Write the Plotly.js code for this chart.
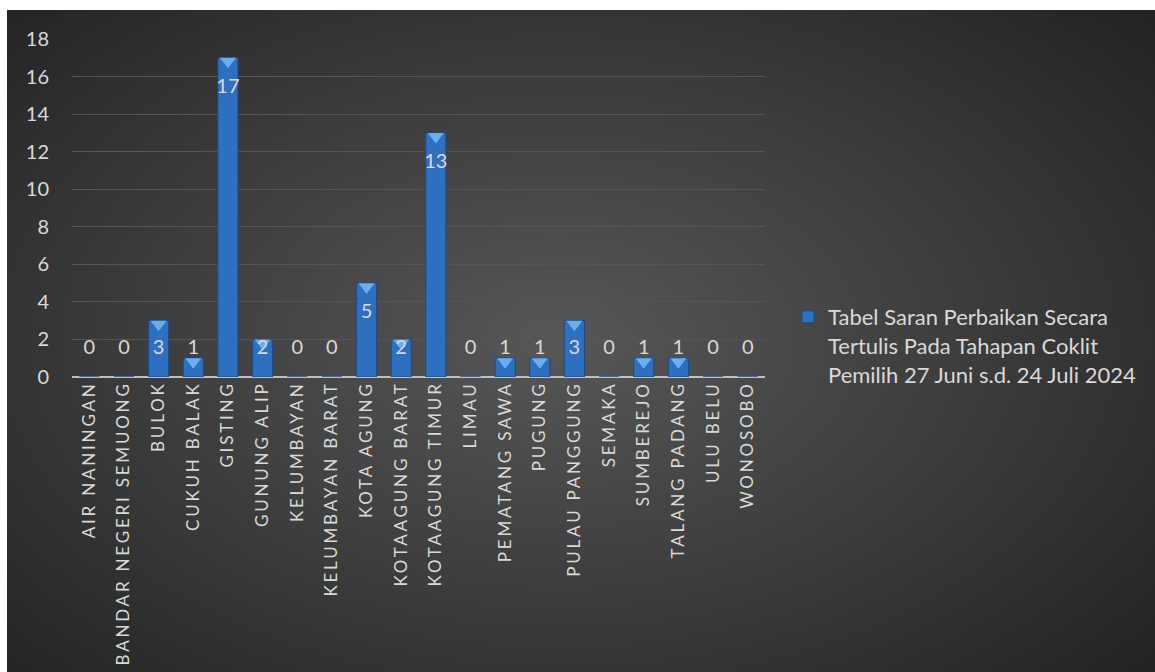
<!DOCTYPE html>
<html>
<head>
<meta charset="utf-8">
<script src="https://cdn.plot.ly/plotly-3.0.1.min.js"></script>
<style>
html,body{margin:0;padding:0;background:#fff;}
#bg{position:absolute;left:7px;top:10px;width:1148px;height:662px;
background:radial-gradient(ellipse 70% 75% at 48% 50%, #575757 0%, #3d3d3d 50%, #222 100%);}
#chart{position:absolute;left:0;top:0;width:1155px;height:672px;}
#chart .xtick text{letter-spacing:2.8px;}
</style>
</head>
<body>
<div id="bg"></div>
<div id="chart"></div>
<script>
const categories = ["AIR NANINGAN","BANDAR NEGERI SEMUONG","BULOK","CUKUH BALAK","GISTING","GUNUNG ALIP","KELUMBAYAN","KELUMBAYAN BARAT","KOTA AGUNG","KOTAAGUNG BARAT","KOTAAGUNG TIMUR","LIMAU","PEMATANG SAWA","PUGUNG","PULAU PANGGUNG","SEMAKA","SUMBEREJO","TALANG PADANG","ULU BELU","WONOSOBO"];
const values = [0,0,3,1,17,2,0,0,5,2,13,0,1,1,3,0,1,1,0,0];
const seriesName = "Tabel Saran Perbaikan Secara<br>Tertulis Pada Tahapan Coklit<br>Pemilih 27 Juni s.d. 24 Juli 2024";
const yTicks = [0,2,4,6,8,10,12,14,16,18];

const fontFam = "Lato, 'Noto Sans', sans-serif";
const labelY = values.map(v => Math.max(v - 1.6, 1.49));
const nz = values.map(v => v > 0);

const traces = [
  {
    type: 'bar', x: categories, y: values, name: seriesName,
    width: 0.58,
    marker: {color: '#2f6fbf', line: {color: '#1d4a85', width: 1}},
    hoverinfo: 'x+y'
  },
  {
    type: 'scatter', mode: 'markers', showlegend: false, hoverinfo: 'skip',
    x: categories.filter((c,i)=>nz[i]),
    y: values.filter(v=>v>0).map(v => v - 0.19),
    marker: {symbol: 'triangle-down', size: 14, color: '#6aaef0', line: {width: 0}}
  },
  {
    type: 'scatter', mode: 'text', showlegend: false, hoverinfo: 'skip',
    x: categories, y: labelY, text: values.map(String),
    textposition: 'middle center',
    textfont: {family: fontFam, size: 20, color: '#d9d9d9'}
  }
];

const layout = {
  width: 1155, height: 672,
  margin: {l: 72, r: 390, t: 39, b: 295},
  paper_bgcolor: 'rgba(0,0,0,0)', plot_bgcolor: 'rgba(0,0,0,0)',
  font: {family: fontFam, color: '#d9d9d9'},
  bargap: 0.42,
  xaxis: {
    type: 'category', tickangle: -90, showgrid: false, zeroline: false,
    showline: false, ticks: '', tickfont: {family: fontFam, size: 17, color: '#d9d9d9'},
    range: [-0.5, 19.5]
  },
  yaxis: {
    range: [0, 18], tickvals: yTicks, ticks: '', showline: false,
    gridcolor: '#555555', gridwidth: 1,
    zeroline: true, zerolinecolor: '#bfbfbf', zerolinewidth: 2,
    tickfont: {family: fontFam, size: 20, color: '#d9d9d9'},
    ticklabelstandoff: 22
  },
  showlegend: true,
  legend: {
    xref: 'paper', yanchor: 'top', xanchor: 'left', valign: 'top',
    font: {family: fontFam, size: 22, color: '#d9d9d9'},
    bgcolor: 'rgba(0,0,0,0)', itemwidth: 30
  }
};
layout.legend.x = (788 - 72) / (1155 - 72 - 390);
layout.legend.y = 1 - (296 - 39) / 338;

Plotly.newPlot('chart', traces, layout, {displayModeBar: false, staticPlot: true});
</script>
</body>
</html>
